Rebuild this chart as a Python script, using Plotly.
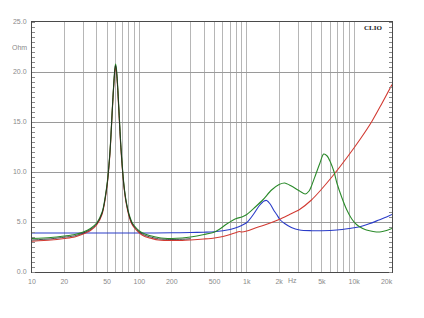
import math
import plotly.graph_objects as go

# ---- data ----
green_f = [10, 15, 20, 25, 30, 35, 40, 45, 50, 53, 54, 56, 57, 58, 59, 60, 61, 62, 63, 65, 67, 70, 72, 75, 80, 85, 90,
           100, 110, 120, 130, 150, 170, 200, 250, 300, 400, 500, 560, 650, 800, 900, 1000, 1200, 1420, 1700, 2000,
           2250, 2600, 3100, 3500, 3800, 4000, 4400, 4800, 5200, 5600, 6000, 6500, 6900, 7700, 8500, 9500, 10500,
           12000, 13000, 15000, 17300, 20000, 22500]
green_z = [3.35, 3.45, 3.6, 3.75, 4.0, 4.35, 4.9, 6.0, 8.8, 11.8, 13.2, 16.4, 17.9, 19.2, 20.3, 20.8, 20.4, 19.5, 18.3,
           15.5, 12.9, 10.0, 8.6, 7.2, 5.8, 5.0, 4.6, 4.1, 3.85, 3.7, 3.6, 3.45, 3.38, 3.35, 3.4, 3.5, 3.75, 4.0, 4.3,
           4.8, 5.35, 5.5, 5.75, 6.5, 7.25, 8.2, 8.75, 8.9, 8.6, 8.1, 7.8, 8.1, 8.6, 9.8, 10.9, 11.8, 11.6, 11.0, 10.0,
           8.9, 7.4, 6.25, 5.3, 4.75, 4.35, 4.2, 4.05, 4.0, 4.15, 4.35]

red_f = [10, 15, 20, 25, 30, 35, 40, 45, 50, 53, 54, 56, 57, 58, 59, 60, 61, 62, 63, 65, 67, 70, 72, 75, 80, 85, 90,
         100, 110, 120, 130, 150, 170, 200, 250, 300, 400, 500, 600, 700, 800, 850, 900, 1000, 1200, 1420, 1700,
         2000, 2500, 3100, 4000, 4800, 6300, 8500, 11400, 14500, 18000, 22500]
red_z = [3.08, 3.2, 3.35, 3.5, 3.8, 4.15, 4.7, 5.8, 8.6, 11.6, 13.0, 16.2, 17.7, 19.0, 20.0, 20.5, 20.1, 19.2, 18.0,
         15.2, 12.6, 9.8, 8.4, 7.0, 5.6, 4.8, 4.4, 3.9, 3.6, 3.45, 3.35, 3.2, 3.15, 3.15, 3.15, 3.2, 3.3, 3.4, 3.55,
         3.75, 3.95, 4.05, 4.0, 4.1, 4.4, 4.65, 4.95, 5.25, 5.75, 6.25, 7.2, 8.1, 9.6, 11.4, 13.3, 15.0, 16.8, 18.75]

blue_f = [10, 50, 100, 200, 300, 400, 500, 600, 700, 830, 1000, 1150, 1300, 1450, 1530, 1650, 1800, 1900, 2050, 2250,
          2600, 3100, 4000, 5000, 6900, 9000, 11000, 14000, 17000, 20000, 22500]
blue_z = [3.9, 3.9, 3.9, 3.92, 3.95, 3.98, 4.02, 4.12, 4.25, 4.5, 4.95, 5.75, 6.6, 7.1, 7.15, 6.8, 6.1, 5.75, 5.2,
          4.85, 4.45, 4.2, 4.13, 4.13, 4.2, 4.35, 4.5, 4.85, 5.2, 5.5, 5.75]

black_f = [10, 15, 20, 25, 30, 35, 40, 45, 50, 53, 54, 56, 57, 58, 59, 60, 61, 62, 63, 65, 67, 70, 72, 75, 80, 85, 90,
           100, 110, 120, 130, 150, 170, 200, 250, 300]
black_z = [3.2, 3.32, 3.48, 3.62, 3.9, 4.25, 4.8, 5.9, 8.7, 11.7, 13.1, 16.3, 17.8, 19.1, 20.2, 20.65, 20.25, 19.35,
           18.15, 15.35, 12.75, 9.9, 8.5, 7.1, 5.7, 4.9, 4.5, 4.0, 3.72, 3.57, 3.47, 3.32, 3.27, 3.25, 3.27, 3.33]

x_label_vals = [10, 20, 50, 100, 200, 500, 1000, 2000, 5000, 10000, 20000]
x_label_text = ["10", "20", "50", "100", "200", "500", "1k", "2k", "5k", "10k", "20k"]
x_grid_vals = [20, 30, 40, 50, 60, 70, 80, 90, 100, 200, 300, 400, 500, 600, 700, 800, 900, 1000,
               2000, 3000, 4000, 5000, 6000, 7000, 8000, 9000, 10000]
y_tick_vals = [0, 5, 10, 15, 20, 25]
y_tick_text = ["0.0", "5.0", "10.0", "15.0", "20.0", "25.0"]

FONT = "Liberation Sans"
LBL = "#8a8a8a"

fig = go.Figure()
for f, z, c, w in [(blue_f, blue_z, "#2a3cc8", 1.1), (red_f, red_z, "#d23a32", 1.1),
                   (green_f, green_z, "#2a8a2a", 1.1), (black_f, black_z, "#202020", 0.8)]:
    fig.add_trace(go.Scatter(x=f, y=z, mode="lines", line=dict(color=c, width=w, shape="spline", smoothing=0.8),
                             hoverinfo="skip", showlegend=False))

fig.update_layout(
    width=424, height=318,
    margin=dict(l=32, r=32, t=22, b=46),
    paper_bgcolor="white", plot_bgcolor="white",
    font=dict(family=FONT, size=7, color=LBL),
    xaxis=dict(type="log", range=[1, 4.352], tickmode="array", tickvals=x_label_vals, ticktext=x_label_text,
               showgrid=False, zeroline=False, showline=True, linecolor="#4a4a4a", linewidth=1, mirror=True,
               ticks="", ticklabelstandoff=3,
               minor=dict(tickmode="array", tickvals=x_grid_vals, showgrid=True, gridcolor="#b6b6b6",
                          gridwidth=1, ticks="")),
    yaxis=dict(range=[0, 25], tickmode="array", tickvals=y_tick_vals, ticktext=y_tick_text,
               showgrid=True, gridcolor="#9a9a9a", gridwidth=1, zeroline=False, showline=True,
               linecolor="#4a4a4a", linewidth=1, mirror="allticks", ticks="", ticklabelstandoff=3,
               minor=dict(dtick=0.5, ticks="inside", ticklen=3, tickcolor="#8a8a8a", tickwidth=1,
                          showgrid=False)),
    yaxis2=dict(overlaying="y", side="right", range=[0, 25], showticklabels=False, showgrid=False,
                zeroline=False, showline=False, ticks="",
                minor=dict(dtick=0.5, ticks="inside", ticklen=3, tickcolor="#8a8a8a", tickwidth=1,
                           showgrid=False)),
)

fig.add_annotation(text="Ohm", xref="paper", x=0, xanchor="right", xshift=-3, y=22.5, yref="y",
                   showarrow=False, font=dict(family=FONT, size=7, color=LBL))
fig.add_annotation(text="Hz", xref="x", x=math.log10(2650), yref="paper", y=0, yanchor="top", yshift=-3,
                   showarrow=False, font=dict(family=FONT, size=7, color=LBL))
fig.add_annotation(text="<b>CLIO</b>", xref="paper", x=0.978, xanchor="right", yref="paper", y=0.976,
                   yanchor="middle", showarrow=False,
                   font=dict(family="Liberation Serif", size=7, color="#202020"))

fig.write_html("out.html")
